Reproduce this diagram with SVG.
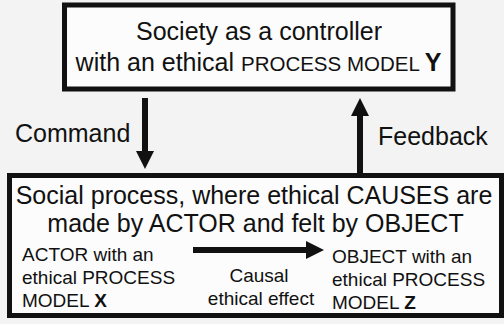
<svg xmlns="http://www.w3.org/2000/svg" width="504" height="324" viewBox="0 0 504 324">
<style>
text{font-family:"Liberation Sans",Arial,sans-serif;fill:#111}
.big{font-size:25px}
.sm{font-size:19px}
.b{font-weight:bold}
.box{fill:#fcfcfc;stroke:#111;stroke-width:5}
.conn{stroke:#111;stroke-width:6;fill:none}
</style>
<defs>
<marker id="ah" viewBox="0 0 18 18" refX="0" refY="9" markerWidth="18" markerHeight="18" markerUnits="userSpaceOnUse" orient="auto">
<path d="M0,0 L18,9 L0,18 z" fill="#111"/>
</marker>
</defs>
<rect width="504" height="324" fill="#f3f3f3"/>
<g id="controller">
<rect class="box" x="64.5" y="5" width="388.5" height="84"/>
<text class="big" x="259" y="40" text-anchor="middle">Society as a controller</text>
<text class="big" x="258.5" y="71" text-anchor="middle">with an ethical <tspan style="font-size:20.5px">PROCESS MODEL </tspan><tspan class="b">Y</tspan></text>
</g>
<g id="process">
<rect class="box" x="9.5" y="175.5" width="492" height="140"/>
<text class="big" x="254" y="204" text-anchor="middle">Social process, where ethical CAUSES are</text>
<text class="big" x="255.5" y="232" text-anchor="middle">made by ACTOR and felt by OBJECT</text>
</g>
<g id="actor">
<text class="sm" x="22" y="261">ACTOR with an</text>
<text class="sm" x="22" y="284">ethical PROCESS</text>
<text class="sm" x="22" y="307">MODEL <tspan class="b">X</tspan></text>
</g>
<g id="object">
<text class="sm" x="332" y="263">OBJECT with an</text>
<text class="sm" x="332" y="286">ethical PROCESS</text>
<text class="sm" x="332" y="309">MODEL <tspan class="b">Z</tspan></text>
</g>
<g id="connectors">
<line class="conn" x1="145" y1="98" x2="145" y2="151" marker-end="url(#ah)"/>
<text class="big" x="15" y="142">Command</text>
<line class="conn" x1="360" y1="173" x2="360" y2="116" marker-end="url(#ah)"/>
<text class="big" x="378" y="145">Feedback</text>
<line class="conn" x1="193" y1="250" x2="306" y2="250" marker-end="url(#ah)"/>
<text class="sm" x="259" y="282" text-anchor="middle">Causal</text>
<text class="sm" x="261" y="305" text-anchor="middle">ethical effect</text>
</g>
</svg>
